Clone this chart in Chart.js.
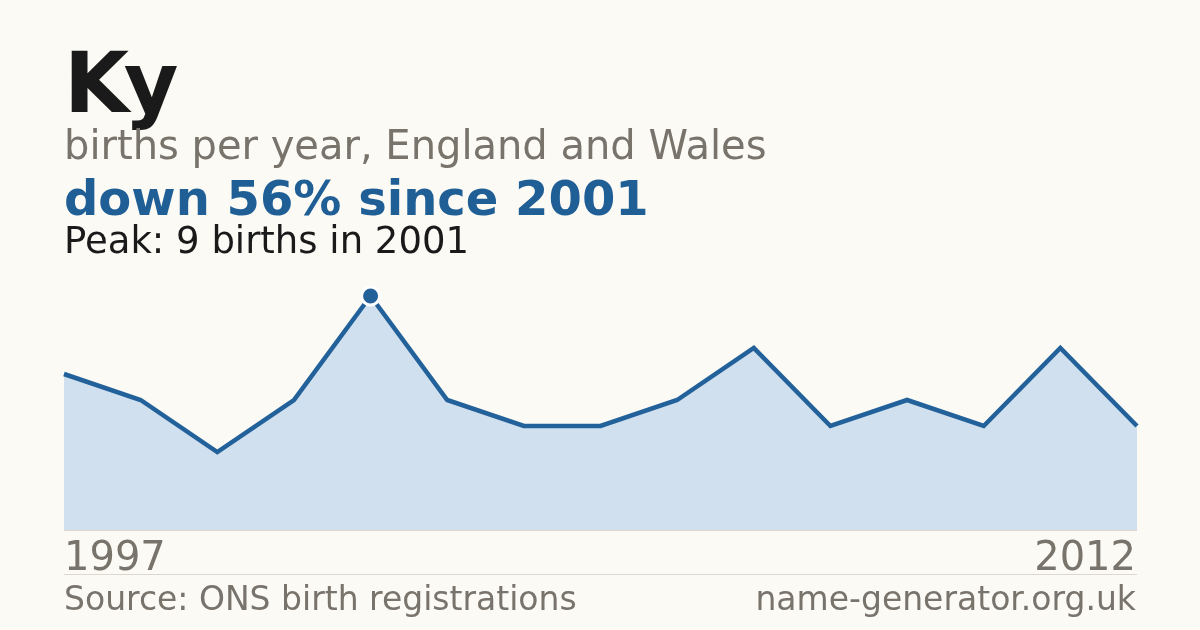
<!DOCTYPE html>
<html>
<head>
<meta charset="utf-8">
<script src="https://cdn.jsdelivr.net/npm/chart.js@4/dist/chart.umd.min.js"></script>
<style>
  html, body { margin: 0; padding: 0; }
  body {
    width: 1200px; height: 630px; overflow: hidden;
    background: #fbfaf5; position: relative;
    font-family: "DejaVu Sans", sans-serif;
  }
  #chartBox { position: absolute; left: 0; top: 0; width: 1200px; height: 630px; }
  .txt { position: absolute; line-height: 1; white-space: nowrap; }
  .title { left: 64px; top: 41px; font-size: 84px; font-weight: bold; color: #1a1a1a; }
  .sub { left: 64px; top: 125px; font-size: 40px; color: #78736b; }
  .change { left: 64px; top: 174px; font-size: 48px; font-weight: bold; color: #1f5f96; }
  .peak { left: 64px; top: 222px; font-size: 37px; color: #1a1a1a; }
  .yr { top: 536px; font-size: 40px; color: #78736b; }
  .foot { top: 582px; font-size: 33px; color: #78736b; }
  .rule { position: absolute; left: 64px; width: 1073px; height: 1px; background: #ddd8ce; }
</style>
</head>
<body>
<div id="chartBox"><canvas id="myChart"></canvas></div>
<div class="rule" style="top:530px"></div>
<div class="rule" style="top:574px"></div>

<div class="txt title">Ky</div>
<div class="txt sub">births per year, England and Wales</div>
<div class="txt change">down 56% since 2001</div>
<div class="txt peak">Peak: 9 births in 2001</div>
<div class="txt yr" style="left:64px">1997</div>
<div class="txt yr" style="right:64px">2012</div>
<div class="txt foot" style="left:64px">Source: ONS birth registrations</div>
<div class="txt foot" style="right:64px">name-generator.org.uk</div>

<script>
const years = ["1997", "1998", "1999", "2000", "2001", "2002", "2003", "2004",
  "2005", "2006", "2007", "2008", "2009", "2010", "2012"];
const births = [6, 5, 3, 5, 9, 5, 4, 4, 5, 7, 4, 5, 4, 7, 4];

const peakIndex = births.indexOf(Math.max(...births));

const data = {
  labels: years,
  datasets: [
    {
      label: "Births",
      data: births,
      borderColor: "#22619a",
      backgroundColor: "#d0e0ef",
      borderWidth: 4.5,
      fill: "origin",
      tension: 0,
      clip: false,
      pointRadius: births.map((v, i) => (i === peakIndex ? 9 : 0)),
      pointBackgroundColor: "#22619a",
      pointBorderColor: "#ffffff",
      pointBorderWidth: 3,
      pointHoverRadius: 0,
    },
  ],
};

const config = {
  type: "line",
  data: data,
  options: {
    responsive: false,
    animation: false,
    maintainAspectRatio: false,
    layout: { padding: { left: 64, right: 63, top: 296, bottom: 100 } },
    plugins: { legend: { display: false }, tooltip: { enabled: false } },
    scales: {
      x: { display: false, offset: false },
      y: { display: false, min: 0, max: 9 },
    },
  },
};

const canvas = document.getElementById("myChart");
canvas.width = 1200;
canvas.height = 630;
canvas.style.width = "1200px";
canvas.style.height = "630px";
new Chart(canvas, config);
</script>
</body>
</html>
